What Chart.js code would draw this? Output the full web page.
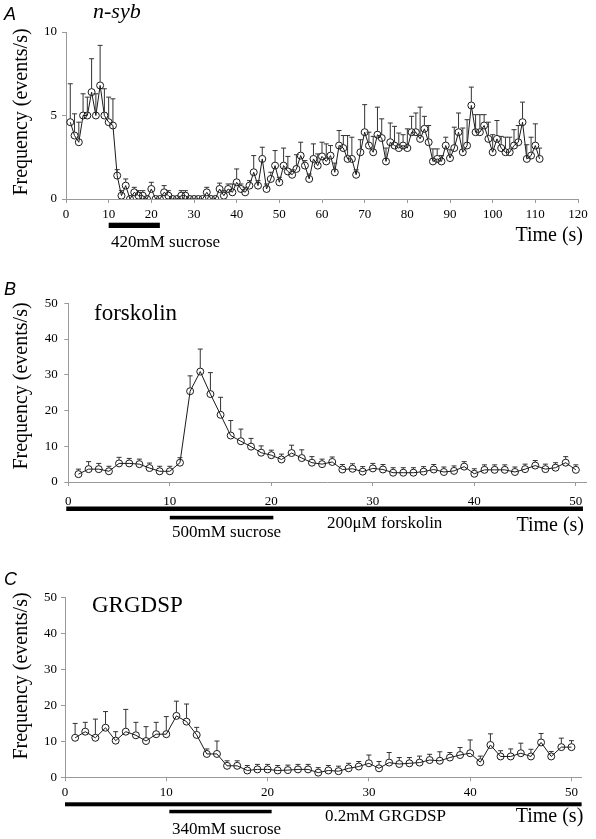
<!DOCTYPE html>
<html><head><meta charset="utf-8">
<script src="https://cdn.jsdelivr.net/npm/chart.js@4.4.1/dist/chart.umd.min.js"></script>
<style>
html,body{margin:0;padding:0;background:#fff;}
body{width:596px;height:839px;position:relative;overflow:hidden;}
canvas{position:absolute;left:0;}
</style></head><body>
<canvas id="cA" width="596" height="262" style="top:0px"></canvas>
<canvas id="cB" width="596" height="290" style="top:270px"></canvas>
<canvas id="cC" width="596" height="279" style="top:560px"></canvas>
<script>
// ---------- data ----------
const timeA = [1,2,3,4,5,6,7,8,9,10,11,12,13,14,15,16,17,18,19,20,21,22,23,24,25,26,27,28,29,30,
  31,32,33,34,35,36,37,38,39,40,41,42,43,44,45,46,47,48,49,50,51,52,53,54,55,56,57,58,59,60,
  61,62,63,64,65,66,67,68,69,70,71,72,73,74,75,76,77,78,79,80,81,82,83,84,85,86,87,88,89,90,
  91,92,93,94,95,96,97,98,99,100,101,102,103,104,105,106,107,108,109,110,111];
const freqA = [4.6,3.8,3.4,5.0,5.0,6.4,5.0,6.8,5.0,4.6,
  4.4,1.4,0.2,0.8,0.0,0.4,0.2,0.2,0.0,0.6,
  0.0,0.0,0.4,0.2,0.0,0.0,0.2,0.2,0.0,0.0,
  0.0,0.0,0.4,0.0,0.0,0.6,0.2,0.6,0.4,1.0,
  0.6,0.4,0.8,1.6,0.8,2.4,0.6,1.2,2.0,1.0,
  2.0,1.65,1.45,1.8,2.6,2.0,1.2,2.4,2.0,2.55,
  2.25,2.6,1.6,3.2,3.05,2.4,2.4,1.45,2.8,4.0,
  3.2,2.8,3.85,3.65,2.25,3.4,3.2,3.05,3.2,3.05,
  4.0,4.0,3.6,4.2,3.4,2.25,2.4,2.25,3.2,2.45,
  3.05,4.0,2.8,3.2,5.6,4.0,4.0,4.4,3.6,2.8,
  3.6,3.05,2.8,2.8,3.2,3.4,4.6,2.4,2.6,3.2,2.4];
const semA = [2.3,1.3,1.2,1.3,1.1,2.0,1.3,2.4,1.6,1.5,
  1.6,0.36,0.05,0.4,0,0.2,0.1,0.1,0,0.4,
  0,0,0.4,0.1,0,0,0.1,0.1,0,0,
  0,0,0.2,0,0,0.35,0.1,0.25,0.5,0.8,
  0.2,0.2,0.3,1.0,0.3,0.7,0.1,0.4,0.9,0.3,
  1.05,0.9,0.3,0.85,0.8,0.3,0.1,0.9,0.7,0.85,
  1.05,0.6,0.55,0.9,0.75,1.4,1.3,0.3,0.75,1.65,
  0.8,0.95,1.65,1.15,0.8,1.15,1.15,0.9,0.65,1.15,
  0.95,1.15,1.9,0.75,1.0,0.75,0.6,0.35,0.5,0.5,
  1.25,1.15,1.45,1.55,1.1,1.05,1.05,0.65,1.0,1.05,
  1.1,0.7,0.9,0.9,0.95,1.0,1.2,0.85,1.1,1.3,0.65];

const timeBC = [1,2,3,4,5,6,7,8,9,10,11,12,13,14,15,16,17,18,19,20,21,22,23,24,25,
  26,27,28,29,30,31,32,33,34,35,36,37,38,39,40,41,42,43,44,45,46,47,48,49,50];
const freqB = [2.2,3.6,3.6,3.0,5.2,5.2,5.0,3.9,3.0,3.0,
  5.4,25.4,30.9,24.6,18.8,13.0,11.4,9.9,8.2,7.5,
  6.3,8.1,6.7,5.4,5.0,5.6,3.5,3.7,2.9,3.8,
  3.5,2.6,2.6,2.6,2.9,3.5,2.8,3.1,4.3,2.3,
  3.4,3.4,3.4,2.8,3.6,4.6,3.6,4.0,5.4,3.4];
const semB = [0.3,2.1,1.6,0.6,1.7,1.4,1.2,1.0,0.3,0.3,
  0.8,4.3,6.3,6.0,4.9,4.2,3.4,2.3,1.9,1.4,
  1.5,2.2,2.3,1.7,0.4,1.0,0.4,0.5,0.4,1.0,
  0.4,0.3,0.3,0.3,0.3,0.8,0.3,0.4,0.6,0.3,
  0.5,0.5,0.5,0.3,1.3,1.1,0.4,1.2,1.7,0.3];
const freqC = [11.0,12.7,11.0,13.8,10.2,12.7,11.7,10.1,12.0,12.0,
  17.1,15.5,11.8,6.5,6.5,3.2,3.2,1.9,2.2,2.2,
  1.9,2.0,2.2,2.2,1.3,1.9,1.7,2.5,3.0,3.9,
  2.5,4.1,3.7,3.9,4.1,4.8,4.6,5.5,6.2,6.7,
  4.2,9.0,5.8,5.8,6.7,5.8,9.7,5.8,8.4,8.4];
const semC = [4.0,2.6,5.2,4.5,2.5,6.2,3.6,4.0,3.3,4.9,
  4.1,4.9,2.1,0.6,3.6,0.9,0.9,0.3,1.2,1.3,
  0.3,0.3,0.3,0.3,0.2,1.3,0.2,0.4,0.4,2.3,
  1.9,2.8,1.8,1.6,1.8,1.6,2.5,1.4,2.1,3.7,
  1.7,3.1,1.6,2.1,2.8,2.0,2.5,1.1,2.5,1.8];

const xTicksA = [0,10,20,30,40,50,60,70,80,90,100,110,120];
const yTicksA = [0,5,10];
const xTicksBC = [0,10,20,30,40,50];
const yTicksBC = [0,10,20,30,40,50];

// treatment periods (s)
const sucroseA = [10, 22];
const forskolinB = [-0.2, 50.7];
const sucroseB = [10, 20.2];
const grgdspC = [0, 51];
const sucroseC = [10.3, 20.4];

// ---------- drawing ----------
const SERIF = "'Liberation Serif', 'Times New Roman', serif";
const SANS = "'Liberation Sans', Arial, sans-serif";
const INK = '#1a1a1a';
const AXIS = '#9a9a9a';
const R = 3.5;

function annotPlugin(times, vals, sems, top, texts, bars) {
  return {
    id: 'annot',
    afterDatasetsDraw(chart) {
      const ctx = chart.ctx, xs = chart.scales.x, ys = chart.scales.y;
      ctx.save();
      ctx.strokeStyle = '#333';
      ctx.lineWidth = 1;
      times.forEach((t, i) => {
        const e = sems[i];
        if (!e) return;
        const px = xs.getPixelForValue(t);
        const py = ys.getPixelForValue(vals[i]);
        let tp = ys.getPixelForValue(vals[i] + e);
        if (tp > py - R - 1.5) tp = py - R - 1.5;
        ctx.beginPath();
        ctx.moveTo(px, py - R);
        ctx.lineTo(px, tp);
        ctx.moveTo(px - 2.5, tp);
        ctx.lineTo(px + 2.5, tp);
        ctx.stroke();
      });
      ctx.restore();
    },
    afterDraw(chart) {
      const ctx = chart.ctx, xs = chart.scales.x;
      ctx.save();
      ctx.fillStyle = '#000';
      bars.forEach(b => {
        const x0 = xs.getPixelForValue(b.range[0]);
        const x1 = xs.getPixelForValue(b.range[1]);
        ctx.fillRect(x0, b.y - top, x1 - x0, b.h);
      });
      texts.forEach(t => {
        ctx.save();
        ctx.font = t.font;
        ctx.fillStyle = '#000';
        ctx.textBaseline = 'alphabetic';
        if (t.rot) {
          ctx.translate(t.x, t.y - top);
          ctx.rotate(-Math.PI / 2);
          ctx.textAlign = 'center';
          ctx.fillText(t.text, 0, 0);
        } else {
          ctx.textAlign = t.align || 'left';
          ctx.fillText(t.text, t.x, t.y - top);
        }
        ctx.restore();
      });
      ctx.restore();
    }
  };
}

function makeChart(id, p) {
  const data = p.times.map((t, i) => ({ x: t, y: p.vals[i] }));
  return new Chart(document.getElementById(id), {
    type: 'line',
    data: { datasets: [{
      data: data,
      borderColor: INK,
      borderWidth: 1,
      pointRadius: R,
      pointBorderWidth: 1,
      pointBorderColor: INK,
      pointBackgroundColor: 'rgba(255,255,255,0)',
      tension: 0,
      fill: false
    }]},
    options: {
      responsive: false,
      animation: false,
      events: [],
      layout: { padding: p.pad },
      plugins: { legend: { display: false }, tooltip: { enabled: false } },
      scales: {
        x: {
          type: 'linear', min: p.xMin, max: p.xMax,
          afterBuildTicks: s => { s.ticks = p.xTicks.map(v => ({ value: v })); },
          afterFit: s => { s.height = 30; },
          grid: { drawOnChartArea: false, drawTicks: true, tickLength: 4, color: AXIS },
          border: { display: true, color: AXIS, width: 1 },
          ticks: { font: { family: SERIF, size: 13 }, color: '#000', padding: p.xPad, maxRotation: 0, autoSkip: false }
        },
        y: {
          type: 'linear', min: 0, max: p.yMax,
          afterBuildTicks: s => { s.ticks = p.yTicks.map(v => ({ value: v })); },
          afterFit: s => { s.width = p.yW; },
          grid: { drawOnChartArea: false, drawTicks: true, tickLength: 4, color: AXIS },
          border: { display: true, color: AXIS, width: 1 },
          ticks: { font: { family: SERIF, size: 13 }, color: '#000', padding: p.yPad }
        }
      }
    },
    plugins: [annotPlugin(p.times, p.vals, p.sems, p.top, p.texts, p.bars)]
  });
}

const YTITLE = 'Frequency (events/s)';

makeChart('cA', {
  times: timeA, vals: freqA, sems: semA, top: 0,
  xMin: 0, xMax: 120, yMax: 10, xTicks: xTicksA, yTicks: yTicksA,
  pad: { left: 0, top: 32, right: 18, bottom: 33 }, yW: 66, xPad: 4, yPad: 5,
  bars: [{ range: sucroseA, y: 222.7, h: 5.3 }],
  texts: [
    { text: 'A', x: 4, y: 20, font: 'italic 18px ' + SANS },
    { text: 'n-syb', x: 93, y: 18, font: 'italic 22px ' + SERIF },
    { text: YTITLE, x: 27, y: 112, font: '20px ' + SERIF, rot: true },
    { text: 'Time (s)', x: 583, y: 241, font: '20px ' + SERIF, align: 'right' },
    { text: '420mM sucrose', x: 111, y: 247, font: '17px ' + SERIF }
  ]
});

makeChart('cB', {
  times: timeBC, vals: freqB, sems: semB, top: 270,
  xMin: 0, xMax: 51, yMax: 50, xTicks: xTicksBC, yTicks: yTicksBC,
  pad: { left: 0, top: 33.3, right: 10, bottom: 48 }, yW: 68.3, xPad: 8, yPad: 6.5,
  bars: [{ range: forskolinB, y: 506.5, h: 4.5 }, { range: sucroseB, y: 515.8, h: 3.6 }],
  texts: [
    { text: 'B', x: 4, y: 295, font: 'italic 18px ' + SANS },
    { text: 'forskolin', x: 94, y: 320, font: '23px ' + SERIF },
    { text: YTITLE, x: 27, y: 386, font: '20px ' + SERIF, rot: true },
    { text: '200\u03BCM forskolin', x: 327, y: 528, font: '17px ' + SERIF },
    { text: 'Time (s)', x: 584, y: 531, font: '20px ' + SERIF, align: 'right' },
    { text: '500mM sucrose', x: 172, y: 536.5, font: '17px ' + SERIF }
  ]
});

makeChart('cC', {
  times: timeBC, vals: freqC, sems: semC, top: 560,
  xMin: 0, xMax: 51, yMax: 50, xTicks: xTicksBC, yTicks: yTicksBC,
  pad: { left: 0, top: 37.7, right: 14.4, bottom: 31.7 }, yW: 65, xPad: 3, yPad: 4,
  bars: [{ range: grgdspC, y: 802.3, h: 4 }, { range: sucroseC, y: 809.8, h: 3.5 }],
  texts: [
    { text: 'C', x: 4, y: 585, font: 'italic 18px ' + SANS },
    { text: 'GRGDSP', x: 92, y: 611.7, font: '23px ' + SERIF },
    { text: YTITLE, x: 27, y: 676, font: '20px ' + SERIF, rot: true },
    { text: '0.2mM GRGDSP', x: 325, y: 821, font: '17px ' + SERIF },
    { text: 'Time (s)', x: 583.3, y: 822, font: '20px ' + SERIF, align: 'right' },
    { text: '340mM sucrose', x: 172, y: 834, font: '17px ' + SERIF }
  ]
});
</script>
</body></html>
